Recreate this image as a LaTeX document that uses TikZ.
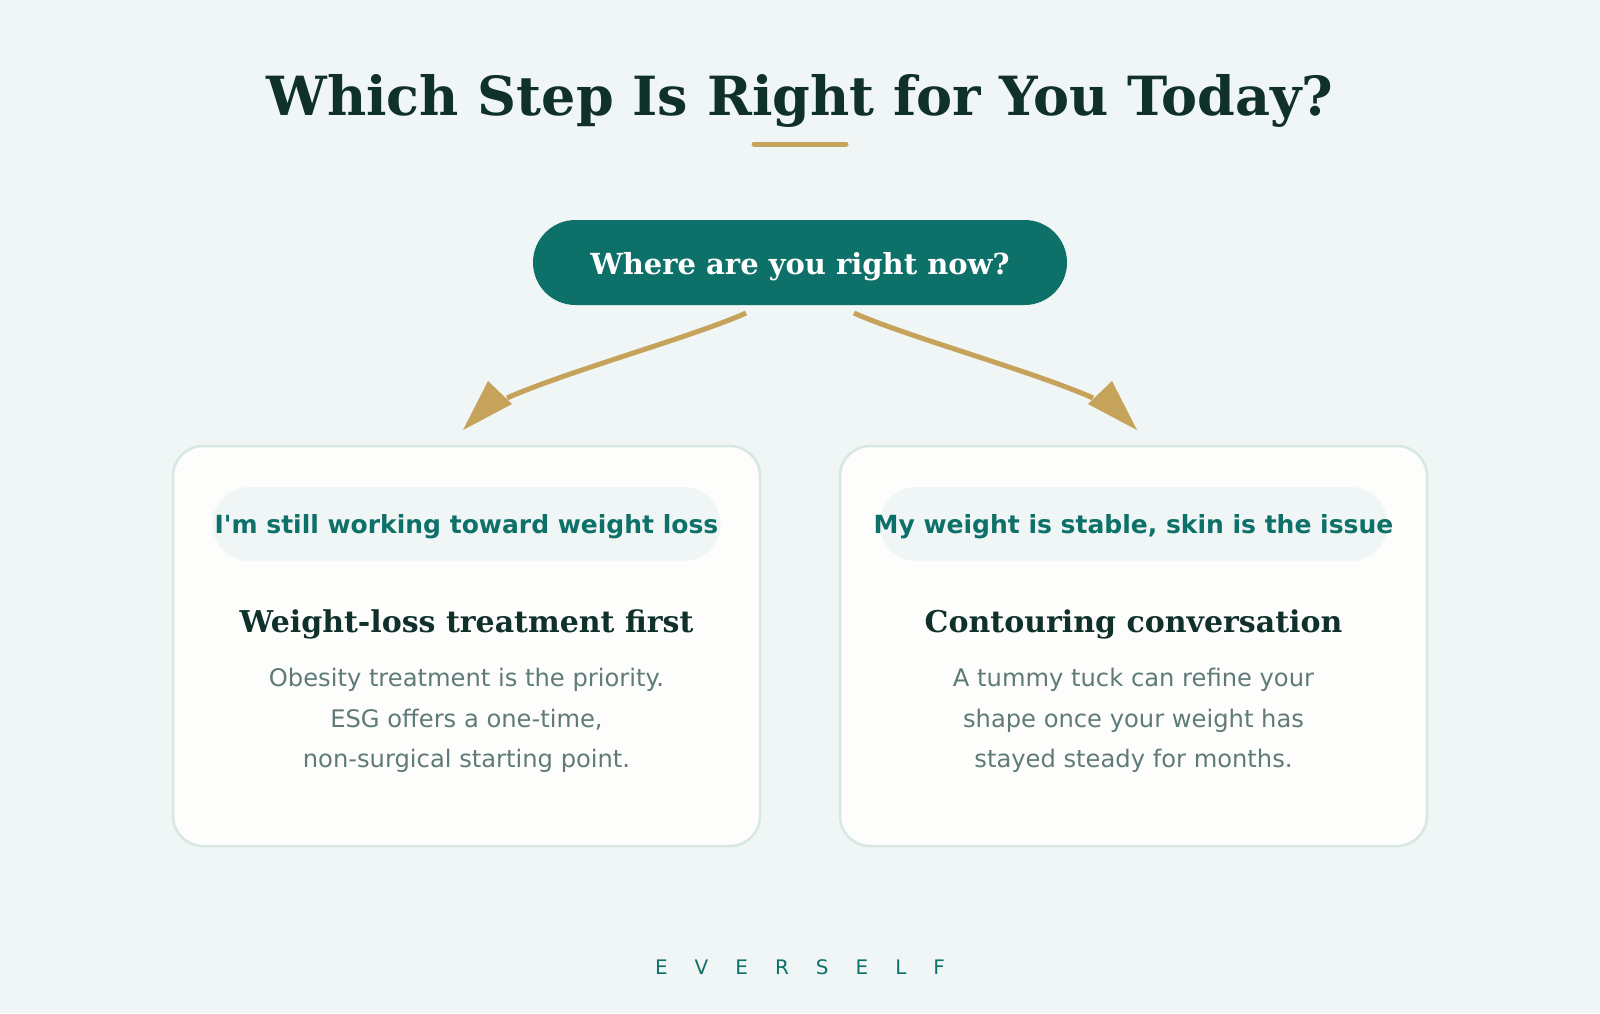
\documentclass[tikz,border=0pt]{standalone}
\usepackage{fontspec}
\setmainfont{DejaVu Sans}
\newfontfamily\dvserif{DejaVu Serif}
\definecolor{bgc}{HTML}{F0F6F5}
\definecolor{tealc}{HTML}{0E7169}
\definecolor{goldc}{HTML}{C5A35A}
\definecolor{darkc}{HTML}{10302C}
\definecolor{grayc}{HTML}{5F7B79}
\definecolor{cardc}{HTML}{FDFDFB}
\definecolor{borderc}{HTML}{D6E7E4}
\begin{document}
\begin{tikzpicture}[x=1pt,y=-1pt,
  cardbox/.style={draw=borderc, line width=2.5pt, fill=cardc, rounded corners=30pt, minimum width=587pt, minimum height=400pt, inner sep=0pt},
  optpill/.style={fill=bgc, rounded corners=37pt, minimum width=508pt, minimum height=74pt, inner sep=0pt},
  opttext/.style={anchor=base, inner sep=0pt, text=tealc, font=\bfseries\fontsize{25}{30}\selectfont},
  headtext/.style={anchor=base, inner sep=0pt, text=darkc, font=\dvserif\bfseries\fontsize{30}{36}\selectfont},
  bodytext/.style={anchor=base, inner sep=0pt, text=grayc, font=\fontsize{24.2}{29}\selectfont},
  conn/.style={draw=goldc, line width=5pt},
  tipfill/.style={fill=goldc}]
\fill[bgc] (0,0) rectangle (1600,1013);
\useasboundingbox (0,0) rectangle (1600,1013);

% title
\node[anchor=base, inner sep=0pt, text=darkc, font=\dvserif\bfseries\fontsize{54}{62}\selectfont] (title) at (800,115) {Which Step Is Right for You Today?};
\coordinate (ul1) at (754,144);
\coordinate (ul2) at (846,144);
\draw[goldc, line width=5pt, line cap=round] (ul1) -- (ul2);

% question pill
\node[fill=tealc, rounded corners=42.5pt, minimum width=534pt, minimum height=85pt, inner sep=0pt] (q) at (800,262.5) {};
\node[anchor=base, inner sep=0pt, text=white, font=\dvserif\bfseries\fontsize{29}{34}\selectfont] (qt) at (800,274) {Where are you right now?};

% cards
\node[cardbox] (lcard) at (466.5,646) {};
\node[cardbox] (rcard) at (1133.5,646) {};

\node[optpill] (lopt) at (466.5,524) {};
\node[optpill] (ropt) at (1133.5,524) {};
\node[opttext] (lopttext) at (466.5,533) {I\textquotesingle m still working toward weight loss};
\node[opttext] (ropttext) at (1133.5,533) {My weight is stable, skin is the issue};

\node[headtext] (lhead) at (466.5,632) {Weight-loss treatment first};
\node[headtext] (rhead) at (1133.5,632) {Contouring conversation};

\node[bodytext] (lb1) at (466.5,686) {Obesity treatment is the priority.};
\node[bodytext] (lb2) at (466.5,727) {ESG offers a one-time,};
\node[bodytext] (lb3) at (466.5,767) {non-surgical starting point.};
\node[bodytext] (rb1) at (1133.5,686) {A tummy tuck can refine your};
\node[bodytext] (rb2) at (1133.5,727) {shape once your weight has};
\node[bodytext] (rb3) at (1133.5,767) {stayed steady for months.};

% connectors
\coordinate (ls) at (746,313);
\coordinate (le) at (507,398);
\coordinate (rs) at (854,313);
\coordinate (re) at (1093,398);
\draw[conn] (ls) .. controls (695,336) and (565,372) .. (le);
\draw[conn] (rs) .. controls (905,336) and (1035,372) .. (re);
\fill[tipfill] (463,430) -- (488,381) -- (512,404) -- cycle;
\fill[tipfill] (1137,430) -- (1112,381) -- (1088,404) -- cycle;

% footer
\node[anchor=base, inner sep=0pt, text=tealc, font=\fontsize{20}{24}\selectfont] (brand) at (800,974) {E\hspace{27pt}V\hspace{27pt}E\hspace{27pt}R\hspace{27pt}S\hspace{27pt}E\hspace{27pt}L\hspace{27pt}F};
\end{tikzpicture}
\end{document}
